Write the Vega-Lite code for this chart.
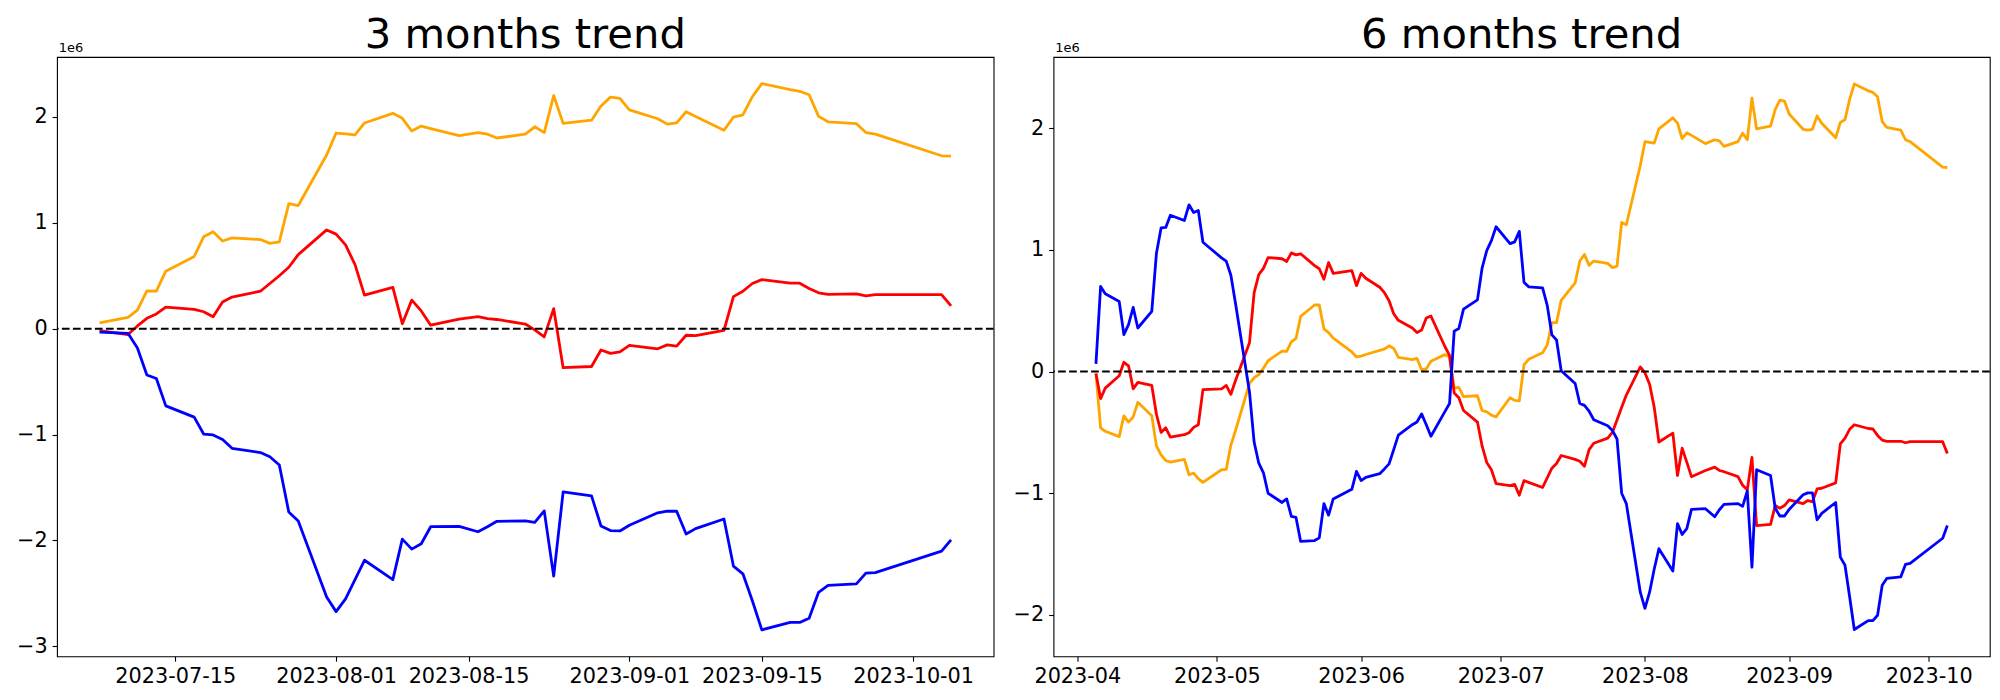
{
  "$schema": "https://vega.github.io/schema/vega-lite/v6.json",
  "background": "white",
  "padding": {"left": 15, "top": 14, "right": 5, "bottom": 5},
  "spacing": 15.5,
  "config": {
    "font": "DejaVu Sans",
    "view": {"stroke": "black", "strokeWidth": 1.1},
    "axis": {
      "grid": false, "domain": false, "tickColor": "black", "tickSize": 4.9, "tickWidth": 1.1,
      "labelColor": "black", "labelFont": "DejaVu Sans", "labelFontSize": 20.8, "labelPadding": 4.9,
      "labelFlush": false, "labelOverlap": false,
      "titleFont": "DejaVu Sans", "titleFontWeight": "normal", "titleColor": "black"
    },
    "title": {"font": "DejaVu Sans", "fontSize": 41.7, "fontWeight": "normal", "color": "black", "offset": -15.1, "anchor": "middle", "frame": "group"}
  },
  "datasets": {
    "d3": [
      {"date": "2023-07-07", "orange": 55000, "red": -18000, "blue": -33000},
      {"date": "2023-07-10", "orange": 106000, "red": -55000, "blue": -44000},
      {"date": "2023-07-11", "orange": 175000, "red": 26000, "blue": -182000},
      {"date": "2023-07-12", "orange": 357000, "red": 98000, "blue": -437000},
      {"date": "2023-07-13", "orange": 354000, "red": 139000, "blue": -470000},
      {"date": "2023-07-14", "orange": 543000, "red": 204000, "blue": -729000},
      {"date": "2023-07-17", "orange": 682000, "red": 182000, "blue": -835000},
      {"date": "2023-07-18", "orange": 868000, "red": 160000, "blue": -995000},
      {"date": "2023-07-19", "orange": 915000, "red": 113000, "blue": -1003000},
      {"date": "2023-07-20", "orange": 828000, "red": 252000, "blue": -1046000},
      {"date": "2023-07-21", "orange": 857000, "red": 299000, "blue": -1130000},
      {"date": "2023-07-24", "orange": 842000, "red": 354000, "blue": -1170000},
      {"date": "2023-07-25", "orange": 806000, "red": 427000, "blue": -1210000},
      {"date": "2023-07-26", "orange": 820000, "red": 500000, "blue": -1287000},
      {"date": "2023-07-27", "orange": 1181000, "red": 580000, "blue": -1732000},
      {"date": "2023-07-28", "orange": 1163000, "red": 700000, "blue": -1816000},
      {"date": "2023-07-31", "orange": 1640000, "red": 933000, "blue": -2534000},
      {"date": "2023-08-01", "orange": 1848000, "red": 893000, "blue": -2672000},
      {"date": "2023-08-02", "orange": 1840000, "red": 791000, "blue": -2552000},
      {"date": "2023-08-03", "orange": 1830000, "red": 605000, "blue": -2370000},
      {"date": "2023-08-04", "orange": 1943000, "red": 317000, "blue": -2187000},
      {"date": "2023-08-07", "orange": 2034000, "red": 390000, "blue": -2370000},
      {"date": "2023-08-08", "orange": 1987000, "red": 47000, "blue": -1987000},
      {"date": "2023-08-09", "orange": 1867000, "red": 270000, "blue": -2082000},
      {"date": "2023-08-10", "orange": 1914000, "red": 168000, "blue": -2031000},
      {"date": "2023-08-11", "orange": 1890000, "red": 33000, "blue": -1870000},
      {"date": "2023-08-14", "orange": 1823000, "red": 91000, "blue": -1867000},
      {"date": "2023-08-16", "orange": 1852000, "red": 113000, "blue": -1918000},
      {"date": "2023-08-17", "orange": 1837000, "red": 95000, "blue": -1870000},
      {"date": "2023-08-18", "orange": 1801000, "red": 87000, "blue": -1819000},
      {"date": "2023-08-21", "orange": 1837000, "red": 44000, "blue": -1816000},
      {"date": "2023-08-22", "orange": 1907000, "red": -11000, "blue": -1830000},
      {"date": "2023-08-23", "orange": 1852000, "red": -77000, "blue": -1721000},
      {"date": "2023-08-24", "orange": 2202000, "red": 190000, "blue": -2337000},
      {"date": "2023-08-25", "orange": 1939000, "red": -368000, "blue": -1542000},
      {"date": "2023-08-28", "orange": 1969000, "red": -357000, "blue": -1579000},
      {"date": "2023-08-29", "orange": 2103000, "red": -201000, "blue": -1863000},
      {"date": "2023-08-30", "orange": 2187000, "red": -233000, "blue": -1907000},
      {"date": "2023-08-31", "orange": 2176000, "red": -219000, "blue": -1910000},
      {"date": "2023-09-01", "orange": 2067000, "red": -157000, "blue": -1856000},
      {"date": "2023-09-04", "orange": 1983000, "red": -190000, "blue": -1739000},
      {"date": "2023-09-05", "orange": 1932000, "red": -153000, "blue": -1724000},
      {"date": "2023-09-06", "orange": 1943000, "red": -164000, "blue": -1724000},
      {"date": "2023-09-07", "orange": 2049000, "red": -62000, "blue": -1939000},
      {"date": "2023-09-08", "orange": 2005000, "red": -66000, "blue": -1888000},
      {"date": "2023-09-11", "orange": 1874000, "red": -15000, "blue": -1797000},
      {"date": "2023-09-12", "orange": 1998000, "red": 303000, "blue": -2242000},
      {"date": "2023-09-13", "orange": 2020000, "red": 354000, "blue": -2315000},
      {"date": "2023-09-14", "orange": 2191000, "red": 427000, "blue": -2570000},
      {"date": "2023-09-15", "orange": 2315000, "red": 463000, "blue": -2844000},
      {"date": "2023-09-18", "orange": 2257000, "red": 430000, "blue": -2774000},
      {"date": "2023-09-19", "orange": 2242000, "red": 430000, "blue": -2774000},
      {"date": "2023-09-20", "orange": 2209000, "red": 379000, "blue": -2734000},
      {"date": "2023-09-21", "orange": 2005000, "red": 339000, "blue": -2490000},
      {"date": "2023-09-22", "orange": 1954000, "red": 324000, "blue": -2424000},
      {"date": "2023-09-25", "orange": 1936000, "red": 328000, "blue": -2410000},
      {"date": "2023-09-26", "orange": 1852000, "red": 310000, "blue": -2308000},
      {"date": "2023-09-27", "orange": 1837000, "red": 321000, "blue": -2304000},
      {"date": "2023-10-04", "orange": 1633000, "red": 321000, "blue": -2100000},
      {"date": "2023-10-05", "orange": 1630000, "red": 215000, "blue": -1994000}
    ],
    "d6": [
      {"date": "2023-04-05", "orange": -16000, "red": -16000, "blue": 63000},
      {"date": "2023-04-06", "orange": -462000, "red": -222000, "blue": 699000},
      {"date": "2023-04-07", "orange": -491000, "red": -136000, "blue": 639000},
      {"date": "2023-04-10", "orange": -535000, "red": -35000, "blue": 576000},
      {"date": "2023-04-11", "orange": -364000, "red": 76000, "blue": 304000},
      {"date": "2023-04-12", "orange": -415000, "red": 47000, "blue": 386000},
      {"date": "2023-04-13", "orange": -373000, "red": -142000, "blue": 528000},
      {"date": "2023-04-14", "orange": -253000, "red": -89000, "blue": 358000},
      {"date": "2023-04-17", "orange": -364000, "red": -114000, "blue": 494000},
      {"date": "2023-04-18", "orange": -611000, "red": -351000, "blue": 972000},
      {"date": "2023-04-19", "orange": -684000, "red": -500000, "blue": 1180000},
      {"date": "2023-04-20", "orange": -731000, "red": -462000, "blue": 1184000},
      {"date": "2023-04-21", "orange": -744000, "red": -538000, "blue": 1285000},
      {"date": "2023-04-24", "orange": -722000, "red": -519000, "blue": 1241000},
      {"date": "2023-04-25", "orange": -848000, "red": -503000, "blue": 1370000},
      {"date": "2023-04-26", "orange": -835000, "red": -459000, "blue": 1307000},
      {"date": "2023-04-27", "orange": -880000, "red": -437000, "blue": 1323000},
      {"date": "2023-04-28", "orange": -911000, "red": -149000, "blue": 1063000},
      {"date": "2023-05-02", "orange": -807000, "red": -142000, "blue": 934000},
      {"date": "2023-05-03", "orange": -804000, "red": -114000, "blue": 908000},
      {"date": "2023-05-04", "orange": -604000, "red": -187000, "blue": 791000},
      {"date": "2023-05-05", "orange": -484000, "red": -73000, "blue": 560000},
      {"date": "2023-05-08", "orange": -98000, "red": 237000, "blue": -168000},
      {"date": "2023-05-09", "orange": -51000, "red": 649000, "blue": -579000},
      {"date": "2023-05-10", "orange": -25000, "red": 797000, "blue": -753000},
      {"date": "2023-05-11", "orange": 28000, "red": 848000, "blue": -832000},
      {"date": "2023-05-12", "orange": 89000, "red": 937000, "blue": -1000000},
      {"date": "2023-05-15", "orange": 168000, "red": 927000, "blue": -1076000},
      {"date": "2023-05-16", "orange": 165000, "red": 905000, "blue": -1047000},
      {"date": "2023-05-17", "orange": 244000, "red": 975000, "blue": -1190000},
      {"date": "2023-05-18", "orange": 272000, "red": 959000, "blue": -1199000},
      {"date": "2023-05-19", "orange": 453000, "red": 968000, "blue": -1396000},
      {"date": "2023-05-22", "orange": 547000, "red": 870000, "blue": -1389000},
      {"date": "2023-05-23", "orange": 547000, "red": 845000, "blue": -1367000},
      {"date": "2023-05-24", "orange": 351000, "red": 759000, "blue": -1085000},
      {"date": "2023-05-25", "orange": 320000, "red": 896000, "blue": -1180000},
      {"date": "2023-05-26", "orange": 275000, "red": 807000, "blue": -1047000},
      {"date": "2023-05-30", "orange": 161000, "red": 829000, "blue": -968000},
      {"date": "2023-05-31", "orange": 120000, "red": 706000, "blue": -820000},
      {"date": "2023-06-01", "orange": 127000, "red": 807000, "blue": -896000},
      {"date": "2023-06-02", "orange": 140000, "red": 767000, "blue": -870000},
      {"date": "2023-06-05", "orange": 174000, "red": 693000, "blue": -839000},
      {"date": "2023-06-06", "orange": 184000, "red": 649000, "blue": -800000},
      {"date": "2023-06-07", "orange": 212000, "red": 582000, "blue": -759000},
      {"date": "2023-06-08", "orange": 190000, "red": 475000, "blue": -642000},
      {"date": "2023-06-09", "orange": 117000, "red": 421000, "blue": -522000},
      {"date": "2023-06-12", "orange": 98000, "red": 358000, "blue": -437000},
      {"date": "2023-06-13", "orange": 108000, "red": 320000, "blue": -415000},
      {"date": "2023-06-14", "orange": 16000, "red": 342000, "blue": -348000},
      {"date": "2023-06-15", "orange": 22000, "red": 440000, "blue": -437000},
      {"date": "2023-06-16", "orange": 85000, "red": 456000, "blue": -532000},
      {"date": "2023-06-19", "orange": 139000, "red": 206000, "blue": -329000},
      {"date": "2023-06-20", "orange": 123000, "red": 133000, "blue": -263000},
      {"date": "2023-06-21", "orange": -136000, "red": -177000, "blue": 332000},
      {"date": "2023-06-22", "orange": -130000, "red": -215000, "blue": 354000},
      {"date": "2023-06-23", "orange": -206000, "red": -320000, "blue": 513000},
      {"date": "2023-06-26", "orange": -199000, "red": -415000, "blue": 589000},
      {"date": "2023-06-27", "orange": -320000, "red": -611000, "blue": 851000},
      {"date": "2023-06-28", "orange": -332000, "red": -747000, "blue": 994000},
      {"date": "2023-06-29", "orange": -358000, "red": -807000, "blue": 1076000},
      {"date": "2023-06-30", "orange": -373000, "red": -921000, "blue": 1190000},
      {"date": "2023-07-03", "orange": -215000, "red": -937000, "blue": 1051000},
      {"date": "2023-07-04", "orange": -237000, "red": -927000, "blue": 1066000},
      {"date": "2023-07-05", "orange": -241000, "red": -1016000, "blue": 1152000},
      {"date": "2023-07-06", "orange": 54000, "red": -896000, "blue": 734000},
      {"date": "2023-07-07", "orange": 101000, "red": -911000, "blue": 696000},
      {"date": "2023-07-10", "orange": 155000, "red": -953000, "blue": 687000},
      {"date": "2023-07-11", "orange": 218000, "red": -873000, "blue": 544000},
      {"date": "2023-07-12", "orange": 402000, "red": -794000, "blue": 301000},
      {"date": "2023-07-13", "orange": 402000, "red": -756000, "blue": 259000},
      {"date": "2023-07-14", "orange": 585000, "red": -690000, "blue": 6000},
      {"date": "2023-07-17", "orange": 728000, "red": -722000, "blue": -98000},
      {"date": "2023-07-18", "orange": 908000, "red": -737000, "blue": -263000},
      {"date": "2023-07-19", "orange": 962000, "red": -778000, "blue": -278000},
      {"date": "2023-07-20", "orange": 873000, "red": -642000, "blue": -326000},
      {"date": "2023-07-21", "orange": 908000, "red": -589000, "blue": -396000},
      {"date": "2023-07-24", "orange": 889000, "red": -547000, "blue": -446000},
      {"date": "2023-07-25", "orange": 854000, "red": -500000, "blue": -484000},
      {"date": "2023-07-26", "orange": 867000, "red": -399000, "blue": -554000},
      {"date": "2023-07-27", "orange": 1225000, "red": -294000, "blue": -1000000},
      {"date": "2023-07-28", "orange": 1206000, "red": -193000, "blue": -1085000},
      {"date": "2023-07-31", "orange": 1693000, "red": 38000, "blue": -1813000},
      {"date": "2023-08-01", "orange": 1889000, "red": -9000, "blue": -1946000},
      {"date": "2023-08-02", "orange": 1883000, "red": -104000, "blue": -1813000},
      {"date": "2023-08-03", "orange": 1877000, "red": -294000, "blue": -1623000},
      {"date": "2023-08-04", "orange": 1994000, "red": -579000, "blue": -1456000},
      {"date": "2023-08-07", "orange": 2085000, "red": -506000, "blue": -1639000},
      {"date": "2023-08-08", "orange": 2041000, "red": -854000, "blue": -1250000},
      {"date": "2023-08-09", "orange": 1915000, "red": -630000, "blue": -1339000},
      {"date": "2023-08-10", "orange": 1962000, "red": -744000, "blue": -1291000},
      {"date": "2023-08-11", "orange": 1941000, "red": -864000, "blue": -1133000},
      {"date": "2023-08-14", "orange": 1873000, "red": -813000, "blue": -1127000},
      {"date": "2023-08-16", "orange": 1905000, "red": -785000, "blue": -1193000},
      {"date": "2023-08-17", "orange": 1896000, "red": -813000, "blue": -1136000},
      {"date": "2023-08-18", "orange": 1851000, "red": -823000, "blue": -1092000},
      {"date": "2023-08-21", "orange": 1889000, "red": -864000, "blue": -1085000},
      {"date": "2023-08-22", "orange": 1959000, "red": -934000, "blue": -1108000},
      {"date": "2023-08-23", "orange": 1905000, "red": -972000, "blue": -981000},
      {"date": "2023-08-24", "orange": 2247000, "red": -706000, "blue": -1608000},
      {"date": "2023-08-25", "orange": 1994000, "red": -1266000, "blue": -807000},
      {"date": "2023-08-28", "orange": 2016000, "red": -1256000, "blue": -854000},
      {"date": "2023-08-29", "orange": 2152000, "red": -1101000, "blue": -1123000},
      {"date": "2023-08-30", "orange": 2231000, "red": -1123000, "blue": -1187000},
      {"date": "2023-08-31", "orange": 2222000, "red": -1101000, "blue": -1187000},
      {"date": "2023-09-01", "orange": 2117000, "red": -1054000, "blue": -1133000},
      {"date": "2023-09-04", "orange": 1991000, "red": -1085000, "blue": -1013000},
      {"date": "2023-09-05", "orange": 1984000, "red": -1060000, "blue": -997000},
      {"date": "2023-09-06", "orange": 1991000, "red": -1070000, "blue": -997000},
      {"date": "2023-09-07", "orange": 2101000, "red": -965000, "blue": -1218000},
      {"date": "2023-09-08", "orange": 2041000, "red": -959000, "blue": -1165000},
      {"date": "2023-09-11", "orange": 1921000, "red": -915000, "blue": -1076000},
      {"date": "2023-09-12", "orange": 2047000, "red": -595000, "blue": -1525000},
      {"date": "2023-09-13", "orange": 2070000, "red": -547000, "blue": -1592000},
      {"date": "2023-09-14", "orange": 2237000, "red": -475000, "blue": -1851000},
      {"date": "2023-09-15", "orange": 2364000, "red": -437000, "blue": -2120000},
      {"date": "2023-09-18", "orange": 2307000, "red": -468000, "blue": -2047000},
      {"date": "2023-09-19", "orange": 2294000, "red": -472000, "blue": -2047000},
      {"date": "2023-09-20", "orange": 2259000, "red": -525000, "blue": -2003000},
      {"date": "2023-09-21", "orange": 2054000, "red": -563000, "blue": -1756000},
      {"date": "2023-09-22", "orange": 2006000, "red": -573000, "blue": -1699000},
      {"date": "2023-09-25", "orange": 1984000, "red": -573000, "blue": -1687000},
      {"date": "2023-09-26", "orange": 1905000, "red": -585000, "blue": -1585000},
      {"date": "2023-09-27", "orange": 1889000, "red": -576000, "blue": -1576000},
      {"date": "2023-10-04", "orange": 1680000, "red": -576000, "blue": -1370000},
      {"date": "2023-10-05", "orange": 1677000, "red": -674000, "blue": -1266000}
    ]
  },
  "hconcat": [
    {
      "width": 936.6,
      "height": 599.3,
      "title": {"text": "3 months trend"},
      "layer": [
        {
          "data": {"name": "d3"},
          "transform": [{"fold": ["orange", "red", "blue"], "as": ["series", "value"]}],
          "mark": {"type": "line", "strokeWidth": 2.8, "strokeJoin": "round"},
          "encoding": {
            "x": {
              "field": "date", "type": "temporal",
              "scale": {"type": "utc", "domain": [{"year": 2023, "month": 7, "date": 2, "hours": 12, "utc": true}, {"year": 2023, "month": 10, "date": 9, "hours": 12, "utc": true}]},
              "axis": {
                "title": null,
                "labelExpr": "utcFormat(datum.value, '%Y-%m-%d')",
                "values": [
                  {"year": 2023, "month": 7, "date": 15, "utc": true},
                  {"year": 2023, "month": 8, "date": 1, "utc": true},
                  {"year": 2023, "month": 8, "date": 15, "utc": true},
                  {"year": 2023, "month": 9, "date": 1, "utc": true},
                  {"year": 2023, "month": 9, "date": 15, "utc": true},
                  {"year": 2023, "month": 10, "date": 1, "utc": true}
                ]
              }
            },
            "y": {
              "field": "value", "type": "quantitative",
              "scale": {"domain": [-3094000, 2566000], "nice": false, "zero": false},
              "axis": {
                "title": "1e6", "titleAngle": 0, "titleX": 1.2, "titleY": -5, "titleAlign": "left", "titleBaseline": "alphabetic", "titleFontSize": 13, "titlePadding": 0,
                "values": [-3000000, -2000000, -1000000, 0, 1000000, 2000000],
                "labelExpr": "format(datum.value / 1000000, 'd')"
              }
            },
            "color": {"field": "series", "type": "nominal", "scale": {"domain": ["orange", "red", "blue"], "range": ["#FFA500", "#FF0000", "#0000FF"]}, "legend": null}
          }
        },
        {
          "data": {"values": [{}]},
          "mark": {"type": "rule", "color": "black", "strokeWidth": 2.1, "strokeDash": [7.7, 3.3]},
          "encoding": {"y": {"datum": 0}}
        }
      ]
    },
    {
      "width": 936.3,
      "height": 599.3,
      "title": {"text": "6 months trend"},
      "layer": [
        {
          "data": {"name": "d6"},
          "transform": [{"fold": ["orange", "red", "blue"], "as": ["series", "value"]}],
          "mark": {"type": "line", "strokeWidth": 2.8, "strokeJoin": "round"},
          "encoding": {
            "x": {
              "field": "date", "type": "temporal",
              "scale": {"type": "utc", "domain": [{"year": 2023, "month": 3, "date": 26, "hours": 21, "utc": true}, {"year": 2023, "month": 10, "date": 14, "hours": 3, "utc": true}]},
              "axis": {
                "title": null,
                "labelExpr": "utcFormat(datum.value, '%Y-%m')",
                "values": [
                  {"year": 2023, "month": 4, "date": 1, "utc": true},
                  {"year": 2023, "month": 5, "date": 1, "utc": true},
                  {"year": 2023, "month": 6, "date": 1, "utc": true},
                  {"year": 2023, "month": 7, "date": 1, "utc": true},
                  {"year": 2023, "month": 8, "date": 1, "utc": true},
                  {"year": 2023, "month": 9, "date": 1, "utc": true},
                  {"year": 2023, "month": 10, "date": 1, "utc": true}
                ]
              }
            },
            "y": {
              "field": "value", "type": "quantitative",
              "scale": {"domain": [-2340000, 2585000], "nice": false, "zero": false},
              "axis": {
                "title": "1e6", "titleAngle": 0, "titleX": 1.2, "titleY": -5, "titleAlign": "left", "titleBaseline": "alphabetic", "titleFontSize": 13, "titlePadding": 0,
                "values": [-2000000, -1000000, 0, 1000000, 2000000],
                "labelExpr": "format(datum.value / 1000000, 'd')"
              }
            },
            "color": {"field": "series", "type": "nominal", "scale": {"domain": ["orange", "red", "blue"], "range": ["#FFA500", "#FF0000", "#0000FF"]}, "legend": null}
          }
        },
        {
          "data": {"values": [{}]},
          "mark": {"type": "rule", "color": "black", "strokeWidth": 2.1, "strokeDash": [7.7, 3.3]},
          "encoding": {"y": {"datum": 0}}
        }
      ]
    }
  ]
}
